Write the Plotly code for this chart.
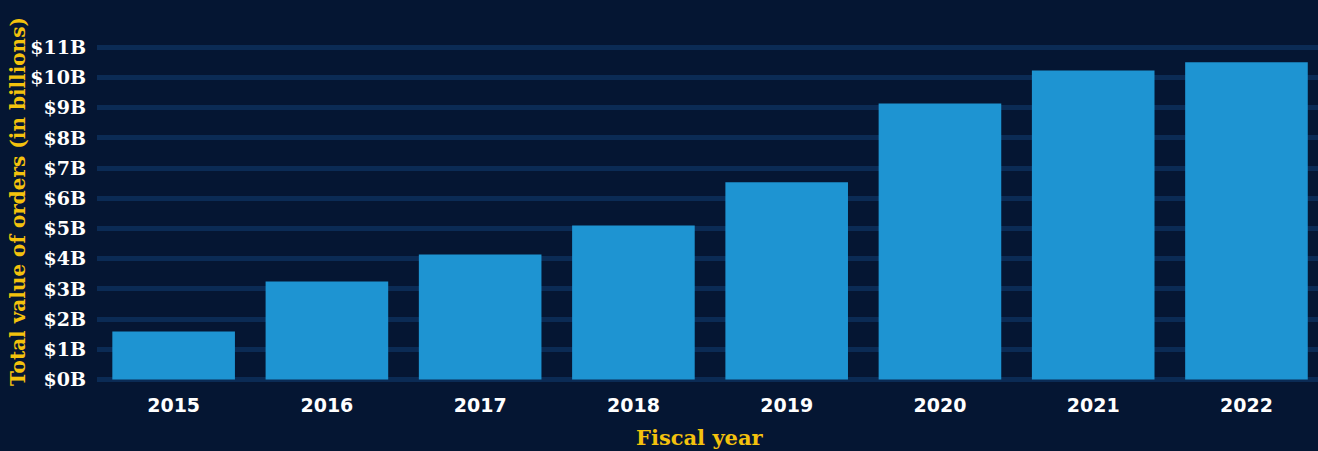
import plotly.graph_objects as go

# Fiscal years and total value of orders (billions of dollars)
years = ["2015", "2016", "2017", "2018", "2019", "2020", "2021", "2022"]
order_value_billions = [1.59, 3.25, 4.14, 5.10, 6.53, 9.14, 10.23, 10.50]

# Y-axis ticks
y_tick_values = list(range(0, 12))
y_tick_labels = [f"${v}B" for v in y_tick_values]

BG = "#051633"
GRID = "#0b2b55"
BAR = "#1e94d2"
YELLOW = "#f4c20d"
SLAB = "DejaVu Serif"
SANS = "DejaVu Sans"

W, H = 1318, 451
L, R, T, B = 97, 0, 17, 69
plot_w = W - L - R
plot_h = H - T - B

fig = go.Figure(
    go.Bar(
        x=years,
        y=order_value_billions,
        marker=dict(color=BAR, line=dict(width=0)),
        hoverinfo="x+y",
    )
)

fig.update_layout(
    width=W,
    height=H,
    margin=dict(l=L, r=R, t=T, b=B, pad=0),
    paper_bgcolor=BG,
    plot_bgcolor=BG,
    bargap=0.2,
    showlegend=False,
)

fig.update_xaxes(
    type="category",
    range=[-0.5, 7.5 - 5.1 / 153.3],
    showgrid=False,
    zeroline=False,
    showline=False,
    ticks="",
    ticklabelstandoff=10,
    tickfont=dict(family=SANS, size=19, color="white", weight="bold"),
)

fig.update_yaxes(
    range=[-0.08, 12],
    tickvals=y_tick_values,
    ticktext=y_tick_labels,
    showgrid=True,
    gridcolor=GRID,
    gridwidth=5,
    zeroline=False,
    showline=False,
    ticks="",
    ticklabelstandoff=10,
    tickfont=dict(family=SLAB, size=19, color="white", weight="bold"),
)

# Axis titles
fig.add_annotation(
    text="Total value of orders (in billions)",
    xref="paper", yref="paper",
    x=(18 - L) / plot_w, y=(H - B - 202) / plot_h,
    xanchor="center", yanchor="middle",
    textangle=-90, showarrow=False,
    font=dict(family=SLAB, size=20, color=YELLOW, weight="bold"),
)
fig.add_annotation(
    text="Fiscal year",
    xref="paper", yref="paper",
    x=(700 - L) / plot_w, y=(H - B - 437) / plot_h,
    xanchor="center", yanchor="middle",
    showarrow=False,
    font=dict(family=SLAB, size=21, color=YELLOW, weight="bold"),
)

fig.write_html("out.html")
